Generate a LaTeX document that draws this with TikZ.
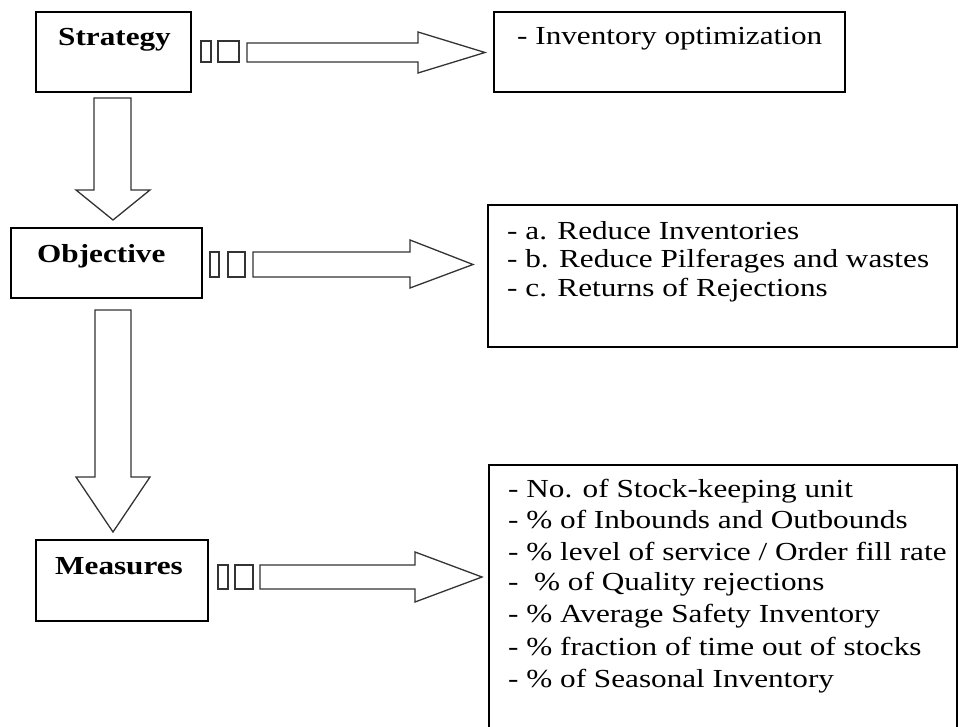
\documentclass[tikz,border=0pt]{standalone}
\usepackage{fontspec}
\setmainfont[FakeStretch=1.2]{Liberation Serif}
\begin{document}
\begin{tikzpicture}[x=1pt,y=-1pt,
  box/.style={draw=black,line width=1.4pt,inner sep=0pt,outer sep=0pt},
  blk/.style={draw=black!80,line width=1.3pt,fill=white,line join=miter},
  lbl/.style={anchor=base west,inner sep=0pt,font=\fontsize{26}{30}\selectfont\bfseries},
  item/.style={anchor=base west,inner sep=0pt,font=\fontsize{26}{30}\selectfont}]
\useasboundingbox (0,0) rectangle (965,727);
% boxes
\node[box,minimum width=155pt,minimum height=80pt] (strat) at (113.5,52) {};
\node[box,minimum width=351pt,minimum height=80pt] (inv) at (669.5,52) {};
\node[box,minimum width=191pt,minimum height=70pt] (obj) at (106.5,263) {};
\node[box,minimum width=469pt,minimum height=142pt] (objl) at (722.5,276) {};
\node[box,minimum width=172pt,minimum height=81pt] (meas) at (122,580.5) {};
\coordinate (ml1) at (489,740);
\coordinate (ml2) at (489,465);
\coordinate (ml3) at (957,465);
\coordinate (ml4) at (957,740);
\begin{scope}
\clip (0,0) rectangle (965,727);
\draw[black,line width=1.4pt] (ml1) -- (ml2) -- (ml3) -- (ml4);
\end{scope}
% labels
\node[lbl] (tstrat) at (58,46) {Strategy};
\node[lbl] (tobj) at (37,262) {Objective};
\node[lbl] (tmeas) at (55,574) {Measures};
% texts
\node[item] (i1) at (517,45) {- Inventory optimization};
\node[item] (o1) at (507,239) {- a. Reduce Inventories};
\node[item] (o2) at (507,267) {- b. Reduce Pilferages and wastes};
\node[item] (o3) at (507,296) {- c. Returns of Rejections};
\node[item] (m1) at (508,497) {- No. of Stock-keeping unit};
\node[item] (m2) at (508,528) {- \% of Inbounds and Outbounds};
\node[item] (m3) at (508,560) {- \% level of service / Order fill rate};
\node[item] (m4) at (508,590) {-\ \ \% of Quality rejections};
\node[item] (m5) at (508,622) {- \% Average Safety Inventory};
\node[item] (m6) at (508,655) {- \% fraction of time out of stocks};
\node[item] (m7) at (508,687) {- \% of Seasonal Inventory};
% small rectangles
\draw[blk,line width=1.2pt] (201,41) rectangle (211,62);
\draw[blk,line width=1.2pt] (218,41) rectangle (239,62);
\draw[blk,line width=1.2pt] (210,252) rectangle (219,277);
\draw[blk,line width=1.2pt] (228,252) rectangle (245,277);
\draw[blk,line width=1.2pt] (218,565) rectangle (228,589);
\draw[blk,line width=1.2pt] (235,565) rectangle (253,589);
% right block arrows
\draw[blk] (247,43) -- (418,43) -- (418,32) -- (485,52.5) -- (418,73) -- (418,62) -- (247,62) -- cycle;
\draw[blk] (253,252) -- (410,252) -- (410,240) -- (473,264.5) -- (410,288) -- (410,277) -- (253,277) -- cycle;
\draw[blk] (260,565) -- (415,565) -- (415,552) -- (482,577) -- (415,602) -- (415,589) -- (260,589) -- cycle;
% down block arrows
\draw[blk] (94,98) -- (131,98) -- (131,190) -- (150,190) -- (113,220) -- (76,190) -- (94,190) -- cycle;
\draw[blk] (95,310) -- (131,310) -- (131,477) -- (150,477) -- (113,532) -- (76,477) -- (95,477) -- cycle;
\end{tikzpicture}
\end{document}
